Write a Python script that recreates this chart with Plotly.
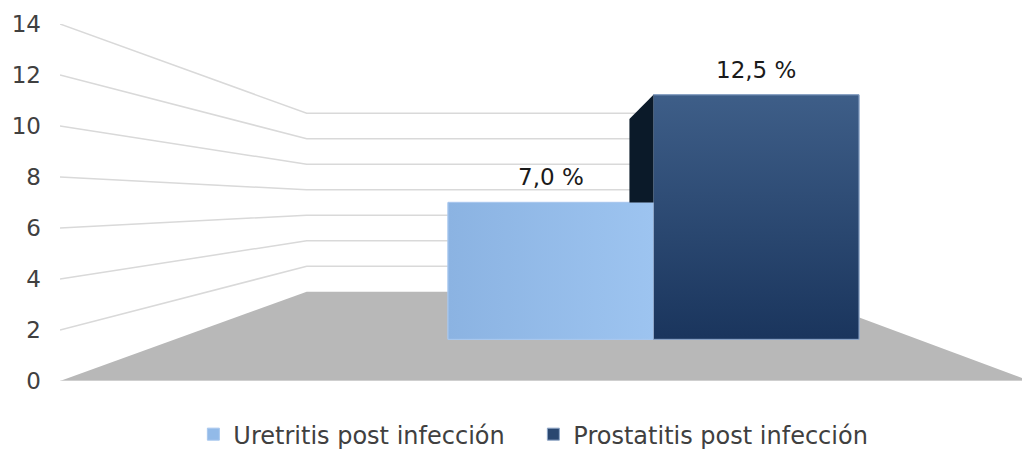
import plotly.graph_objects as go

# ---- data ----
categories = ["Uretritis post infección", "Prostatitis post infección"]
values = [7.0, 12.5]
value_labels = ["7,0 %", "12,5 %"]
y_ticks = [0, 2, 4, 6, 8, 10, 12, 14]

# ---- styles / layout constants ----
bar_colors = ["#92BAE8", "#2A4770"]
bar_grad = [("horizontal", "#8BB3E2", "#9DC4F0"),
            ("vertical", "#1A355D", "#3E5E88")]
bar_edge = ["#A9C8EE", "#8EA6C8"]
side_color = "#0B1A29"
grid_color = "#D9D9D9"
floor_color = "#B8B8B8"
text_color = "#404040"
FONT = "Verdana, DejaVu Sans, sans-serif"

# page body has an 8px margin: figure is sized/offset to compensate
W, H = 1022, 443
ML, MR, MT, MB = 52, 0, 16, 70
X0, X1 = 60, 1030                   # x axis in window-pixel-like units
BACK_L, BACK_R = 306.7, 790.0       # back wall horizontal extent
BACK_OFF, BACK_SCALE = 3.5, 0.5     # back wall value mapping on y axis
Y2_RANGE = [-2.13, 16.12]           # scale of the front (bar) plane
BAR_W = 205.5
BAR_LEFT = 448.0
VP_X = 546.0                        # vanishing point x
DEPTH_F = 0.224                     # depth fraction toward vanishing point

fig = go.Figure()

# floor
fig.add_trace(go.Scatter(
    x=[X0, BACK_L, BACK_R, X1, X0],
    y=[0, BACK_OFF, BACK_OFF, 0, 0],
    fill="toself", fillcolor=floor_color, mode="lines",
    line=dict(width=0), hoverinfo="skip", showlegend=False,
    xaxis="x", yaxis="y"))

# grid lines (side wall + back wall)
for v in y_ticks[1:]:
    yb = BACK_OFF + BACK_SCALE * v
    fig.add_trace(go.Scatter(
        x=[X0, BACK_L, BACK_R], y=[v, yb, yb], mode="lines",
        line=dict(color=grid_color, width=1.5), hoverinfo="skip",
        showlegend=False, xaxis="x", yaxis="y"))
# front bottom line
fig.add_trace(go.Scatter(
    x=[X0, X1], y=[0, 0], mode="lines",
    line=dict(color="#E6E6E6", width=1), hoverinfo="skip",
    showlegend=False, xaxis="x", yaxis="y"))

# bars (front plane on y2)
for i, (cat, val) in enumerate(zip(categories, values)):
    fig.add_trace(go.Bar(
        x=[BAR_LEFT + BAR_W * i], y=[val], base=0,
        width=[BAR_W], offset=0,
        name=cat, marker=dict(color=bar_colors[i],
                              line=dict(color=bar_edge[i], width=1)),
        xaxis="x", yaxis="y2", hoverinfo="name+y"))

# gradient shading of each bar's front face (same geometry as the bar)
for i, val in enumerate(values):
    xl = BAR_LEFT + BAR_W * i
    xr = xl + BAR_W
    gtype, c0, c1 = bar_grad[i]
    fig.add_trace(go.Scatter(
        x=[xl, xr, xr, xl, xl], y=[0, 0, val, val, 0],
        fill="toself", mode="lines",
        fillgradient=dict(type=gtype, colorscale=[[0, c0], [1, c1]]),
        line=dict(color=bar_edge[i], width=1),
        hoverinfo="skip", showlegend=False, xaxis="x", yaxis="y2"))

# visible side face of the taller bar (left face, above the first bar)
vp_y2 = values[0]  # vanishing point height coincides with first bar top
xf = BAR_LEFT + BAR_W
xb = xf + DEPTH_F * (VP_X - xf)
top_b = values[1] + DEPTH_F * (vp_y2 - values[1])
fig.add_trace(go.Scatter(
    x=[xf, xb, xb, xf, xf],
    y=[values[1], top_b, values[0], values[0], values[1]],
    fill="toself", fillcolor=side_color, mode="lines",
    line=dict(width=0), hoverinfo="skip", showlegend=False,
    xaxis="x", yaxis="y2"))

# data labels
for i, (val, lab) in enumerate(zip(values, value_labels)):
    fig.add_annotation(
        x=BAR_LEFT + BAR_W * (i + 0.5), y=val, xref="x", yref="y2",
        text=lab, showarrow=False, yanchor="bottom", yshift=10,
        font=dict(size=23, color="#1A1A1A", family=FONT))

fig.update_layout(
    width=W, height=H,
    margin=dict(l=ML, r=MR, t=MT, b=MB, autoexpand=False),
    paper_bgcolor="white", plot_bgcolor="white",
    font=dict(family=FONT, size=23, color=text_color),
    barmode="overlay",
    showlegend=True,
    legend=dict(orientation="h", x=0.488, xanchor="center",
                y=-0.15, yanchor="middle",
                font=dict(size=24, color=text_color),
                itemwidth=30, entrywidth=295, traceorder="normal"),
    xaxis=dict(range=[X0, X1], visible=False, fixedrange=True,
               automargin=False),
    yaxis=dict(range=[0, 14], tickvals=y_ticks, showgrid=False,
               zeroline=False, showline=False, ticks="",
               ticklabelstandoff=18, automargin=False,
               tickfont=dict(size=23, color=text_color)),
    yaxis2=dict(range=Y2_RANGE, overlaying="y", visible=False,
                automargin=False),
)

fig.write_html("out.html")
